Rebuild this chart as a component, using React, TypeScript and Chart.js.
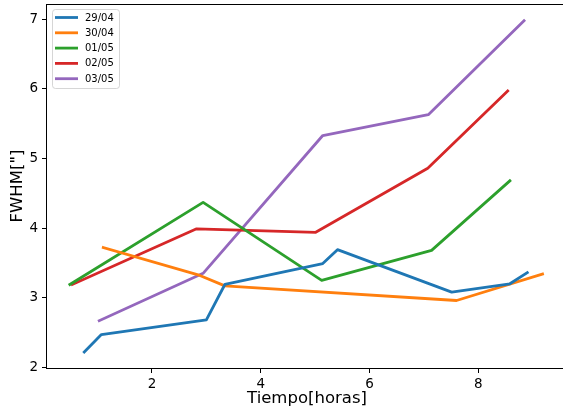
import React, { useEffect, useRef } from "react";
import { Chart, registerables } from "chart.js";

Chart.register(...registerables);

const seriesLabels = ["29/04", "30/04", "01/05", "02/05", "03/05"];
const seriesColors = ["#1f77b4", "#ff7f0e", "#2ca02c", "#d62728", "#9467bd"];

const x2904 = [0.755, 1.07, 3.0, 3.34, 5.14, 5.41, 7.51, 8.58, 8.9];
const y2904 = [2.22, 2.47, 2.68, 3.19, 3.49, 3.69, 3.08, 3.2, 3.36];

const x3004 = [1.105, 2.88, 3.34, 7.6, 9.18];
const y3004 = [3.72, 3.32, 3.17, 2.96, 3.34];

const x0105 = [0.49, 2.94, 5.12, 7.14, 8.58];
const y0105 = [3.19, 4.37, 3.25, 3.68, 4.68];

const x0205 = [0.535, 2.82, 5.01, 7.07, 8.54];
const y0205 = [3.19, 3.99, 3.94, 4.86, 5.97];

const x0305 = [1.03, 2.94, 5.14, 7.08, 8.84];
const y0305 = [2.67, 3.35, 5.33, 5.63, 6.98];

const xTicks = [2, 4, 6, 8];
const yTicks = [2, 3, 4, 5, 6, 7];

const xTitle = "Tiempo[horas]";
const yTitle = 'FWHM["]';

const allX = [x2904, x3004, x0105, x0205, x0305];
const allY = [y2904, y3004, y0105, y0205, y0305];

const FONT = "'DejaVu Sans', sans-serif";

const spinesPlugin = {
  id: "spines",
  afterDraw(chart: any) {
    const { ctx, chartArea } = chart;
    ctx.save();
    ctx.strokeStyle = "#000";
    ctx.lineWidth = 1;
    ctx.strokeRect(
      Math.round(chartArea.left) - 0.5,
      Math.round(chartArea.top) + 0.5,
      Math.round(chartArea.right - chartArea.left) + 1,
      Math.round(chartArea.bottom - chartArea.top)
    );
    ctx.restore();
  },
};

const legendPlugin = {
  id: "mplLegend",
  afterDraw(chart: any) {
    const { ctx } = chart;
    ctx.save();
    const bx = 52.5, by = 9.5, bw = 67, bh = 79, r = 3;
    ctx.beginPath();
    ctx.moveTo(bx + r, by);
    ctx.lineTo(bx + bw - r, by);
    ctx.quadraticCurveTo(bx + bw, by, bx + bw, by + r);
    ctx.lineTo(bx + bw, by + bh - r);
    ctx.quadraticCurveTo(bx + bw, by + bh, bx + bw - r, by + bh);
    ctx.lineTo(bx + r, by + bh);
    ctx.quadraticCurveTo(bx, by + bh, bx, by + bh - r);
    ctx.lineTo(bx, by + r);
    ctx.quadraticCurveTo(bx, by, bx + r, by);
    ctx.closePath();
    ctx.fillStyle = "rgba(255,255,255,0.8)";
    ctx.fill();
    ctx.strokeStyle = "rgba(204,204,204,0.8)";
    ctx.lineWidth = 1;
    ctx.stroke();
    ctx.font = "10px " + FONT;
    ctx.textBaseline = "middle";
    ctx.textAlign = "left";
    seriesLabels.forEach((lab, i) => {
      const y = 17.5 + i * 15.3;
      ctx.strokeStyle = seriesColors[i];
      ctx.lineWidth = 2.8;
      ctx.lineCap = "butt";
      ctx.beginPath();
      ctx.moveTo(55, y);
      ctx.lineTo(78, y);
      ctx.stroke();
      ctx.fillStyle = "#000";
      ctx.fillText(lab, 85, y + 0.5);
    });
    ctx.restore();
  },
};

export default function App() {
  const ref = useRef<HTMLCanvasElement | null>(null);
  useEffect(() => {
    if (!ref.current) return;
    const datasets = seriesLabels.map((label, i) => ({
      label,
      data: allX[i].map((x, j) => ({ x, y: allY[i][j] })),
      borderColor: seriesColors[i],
      backgroundColor: seriesColors[i],
      borderWidth: 2.8,
      pointRadius: 0,
      tension: 0,
      fill: false,
      borderJoinStyle: "round" as const,
      borderCapStyle: "square" as const,
    }));
    const chart = new Chart(ref.current, {
      type: "line",
      data: { datasets },
      plugins: [spinesPlugin, legendPlugin],
      options: {
        animation: false,
        responsive: false,
        maintainAspectRatio: false,
        layout: { padding: { top: 4, right: 13, bottom: 0, left: 0 } },
        plugins: { legend: { display: false }, tooltip: { enabled: false } },
        scales: {
          x: {
            type: "linear",
            min: 0.07,
            max: 9.63,
            afterBuildTicks: (s: any) => {
              s.ticks = xTicks.map((v) => ({ value: v }));
            },
            afterFit: (s: any) => {
              s.height = 43;
              s.paddingLeft = 0;
              s.paddingRight = 0;
            },
            grid: {
              drawOnChartArea: false,
              drawTicks: true,
              tickLength: 5,
              color: "#000",
            },
            border: { display: false },
            ticks: {
              color: "#000",
              padding: 3,
              font: { family: FONT, size: 13.5 },
              maxRotation: 0,
            },
            title: {
              display: true,
              text: xTitle,
              color: "#000",
              font: { family: FONT, size: 16.5 },
              padding: { top: 0, bottom: 2 },
            },
          },
          y: {
            type: "linear",
            min: 1.99,
            max: 7.22,
            afterBuildTicks: (s: any) => {
              s.ticks = yTicks.map((v) => ({ value: v }));
            },
            afterFit: (s: any) => {
              s.width = 47;
              s.paddingTop = 0;
              s.paddingBottom = 0;
            },
            grid: {
              drawOnChartArea: false,
              drawTicks: true,
              tickLength: 5,
              color: "#000",
            },
            border: { display: false },
            ticks: {
              color: "#000",
              padding: 4,
              font: { family: FONT, size: 13.5 },
            },
            title: {
              display: true,
              text: yTitle,
              color: "#000",
              font: { family: FONT, size: 16.5 },
              padding: { top: 8, bottom: 0 },
            },
          },
        },
      },
    });
    return () => chart.destroy();
  }, []);
  return (
    <div
      style={{
        position: "absolute",
        left: 0,
        top: 0,
        width: 563,
        height: 411,
        overflow: "hidden",
        background: "#fff",
      }}
    >
      <canvas
        ref={ref}
        width={580}
        height={411}
        style={{ width: 580, height: 411, display: "block" }}
      />
    </div>
  );
}
